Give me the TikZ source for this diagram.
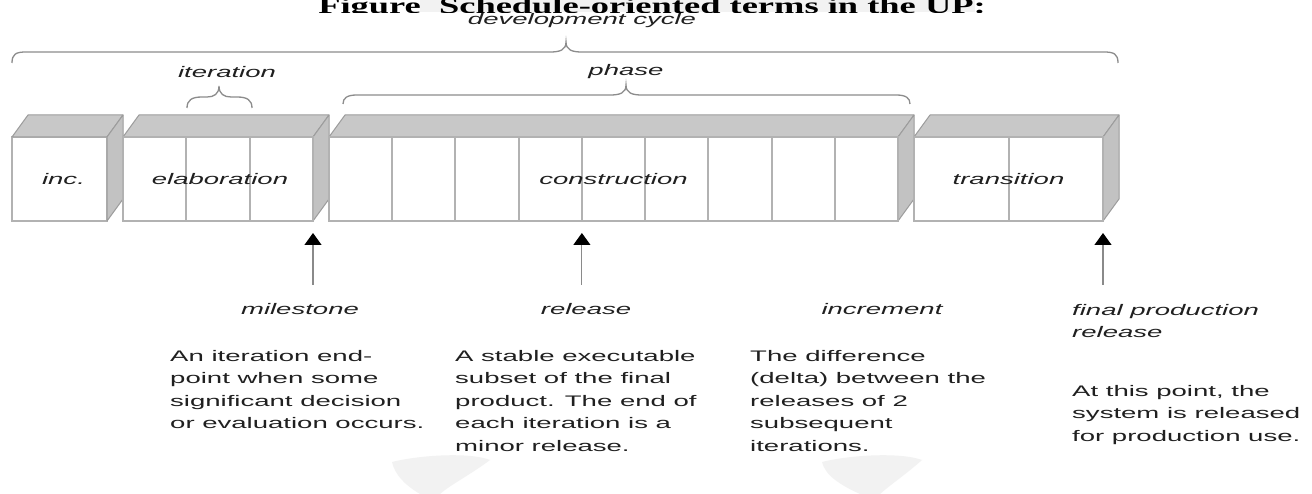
\documentclass[tikz,border=0pt]{standalone}
\usepackage{fontspec}
\usetikzlibrary{arrows.meta,calc}
\newfontfamily\sfw[FakeStretch=1.8]{Liberation Sans}
\newfontfamily\sew[FakeStretch=1.62]{Liberation Serif}
\definecolor{facetop}{HTML}{C8C8C8}
\definecolor{faceside}{HTML}{C2C2C2}
\definecolor{faceedge}{HTML}{9C9C9C}
\definecolor{frontedge}{HTML}{B2B2B2}
\definecolor{bracecol}{HTML}{8C8C8C}
\definecolor{stemcol}{HTML}{8A8A8A}
\definecolor{txtcol}{HTML}{202020}
\definecolor{wmark}{HTML}{F2F2F2}
\newcommand\lbltxt{\sfw\itshape\fontsize{15.3}{22.5}\selectfont}
\newcommand\dsctxt{\sfw\fontsize{15.3}{22.5}\selectfont}
\newcommand\boxfaces[1]{%
  \draw[topface] (#1.north west) -- (#1.north east) -- ++(16,-22) -- ([shift={(16pt,22pt)}]#1.north west) -- cycle;
  \draw[sideface] (#1.north east) -- ++(16,-22) -- ++(0,84) -- (#1.south east) -- cycle;}
\begin{document}
\begin{tikzpicture}[x=1pt,y=-1pt,
  front/.style={draw=frontedge, fill=white, line width=1.4pt, minimum height=84pt, inner sep=0pt, outer sep=0pt, font=\lbltxt, text=txtcol},
  topface/.style={draw=faceedge, fill=facetop, line width=1pt, line join=round},
  sideface/.style={draw=faceedge, fill=faceside, line width=1pt, line join=round},
  divider/.style={draw=frontedge, line width=2pt},
  bracket/.style={draw=bracecol, line width=1.3pt},
  lbl/.style={font=\lbltxt, text=txtcol, inner sep=0pt},
  dsc/.style={font=\dsctxt, text=txtcol, inner sep=0pt, align=left, anchor=north west},
  arr/.style={draw=stemcol, line width=1.2pt, -{Triangle[length=12pt,width=17pt,color=black]}}]
\useasboundingbox (0,0) rectangle (1312,494);
\fill[white] (0,0) rectangle (1312,494);
% faint watermark shapes
\fill[wmark] (420,0) rectangle (975,12.5);
\fill[wmark] (392,462) .. controls (420,455) and (470,452) .. (490,460) .. controls (470,475) and (450,485) .. (440,494) -- (420,494) .. controls (405,485) and (395,475) .. (392,462) -- cycle;
\fill[wmark] (822,462) .. controls (850,455) and (900,452) .. (922,460) .. controls (905,475) and (890,485) .. (880,494) -- (860,494) .. controls (840,485) and (825,475) .. (822,462) -- cycle;
% title (clipped)
\begin{scope}
\clip (0,0) rectangle (1312,12.5);
\node[anchor=base, inner sep=0pt, font=\sew\bfseries\fontsize{22.5}{26}\selectfont, text=black] (title) at (652,13.5) {Figure~~Schedule-oriented terms in the UP:};
\end{scope}
% top labels
\node[lbl] (dev) at (582,21) {development cycle};
\node[lbl] (itl) at (227,72) {iteration};
\node[lbl] (phl) at (626,72) {phase};
% braces
\draw[bracket] (12,63) .. controls (12,54) and (16,52) .. (26,52) -- (550,52) .. controls (560,52) and (566,50) .. (566,42)
  .. controls (566,50) and (572,52) .. (582,52) -- (1104,52) .. controls (1114,52) and (1118,54) .. (1118,63);
\draw[bracket] (187,108) .. controls (187,100) and (192,97) .. (202,97) -- (207,97) .. controls (214,97) and (219,94) .. (219,86)
  .. controls (219,94) and (224,97) .. (231,97) -- (237,97) .. controls (247,97) and (252,100) .. (252,108);
\draw[bracket] (343,104) .. controls (343,98) and (347,95) .. (357,95) -- (610,95) .. controls (620,95) and (626,93) .. (626,85)
  .. controls (626,93) and (632,95) .. (642,95) -- (896,95) .. controls (906,95) and (910,98) .. (910,104);
% boxes (front faces)
\node[front, minimum width=95pt] (inc) at (59.5,179) {};
\node[front, minimum width=190pt] (ela) at (218,179) {};
\node[front, minimum width=569pt] (con) at (613.5,179) {};
\node[front, minimum width=189pt] (tra) at (1008.5,179) {};
\boxfaces{inc}
\boxfaces{ela}
\boxfaces{con}
\boxfaces{tra}
\foreach \k in {1,2}
  \draw[divider] ($(ela.north west)!\k/3!(ela.north east)$) -- ($(ela.south west)!\k/3!(ela.south east)$);
\foreach \k in {1,...,8}
  \draw[divider] ($(con.north west)!\k/9!(con.north east)$) -- ($(con.south west)!\k/9!(con.south east)$);
\draw[divider] (tra.north) -- (tra.south);
\draw[draw=frontedge, line width=1.4pt] (ela.north west) rectangle (ela.south east);
\draw[draw=frontedge, line width=1.4pt] (con.north west) rectangle (con.south east);
\draw[draw=frontedge, line width=1.4pt] (tra.north west) rectangle (tra.south east);
\node[lbl] (inct) at ([xshift=4pt]inc) {inc.};
\node[lbl] (elat) at ([xshift=2pt]ela) {elaboration};
\node[lbl] (cont) at (con) {construction};
\node[lbl] (trat) at (tra) {transition};
% arrows
\coordinate (msT) at ([yshift=-12pt]ela.south east);
\coordinate (msB) at ([yshift=-64pt]ela.south east);
\coordinate (rlT) at ($([yshift=-12pt]con.south west)!4/9!([yshift=-12pt]con.south east)$);
\coordinate (rlB) at ($([yshift=-64pt]con.south west)!4/9!([yshift=-64pt]con.south east)$);
\coordinate (fpT) at ([yshift=-12pt]tra.south east);
\coordinate (fpB) at ([yshift=-64pt]tra.south east);
\draw[arr] (msB) -- (msT);
\draw[arr] (rlB) -- (rlT);
\draw[arr] (fpB) -- (fpT);
% labels
\node[lbl, anchor=base] (ms) at (300,315) {milestone};
\node[lbl, anchor=base] (rl) at (586,315) {release};
\node[lbl, anchor=base] (im) at (882,315) {increment};
\node[lbl, align=left, anchor=north west] (fp) at (1072,304) {final production\\release};
% descriptions
\node[dsc] (msd) at (170,350) {An iteration end-\\point when some\\significant decision\\or evaluation occurs.};
\node[dsc] (rld) at (455,350) {A stable executable\\subset of the final\\product. The end of\\each iteration is a\\minor release.};
\node[dsc] (imd) at (750,350) {The difference\\(delta) between the\\releases of 2\\subsequent\\iterations.};
\node[dsc] (fpd) at (1072,385) {At this point, the\\system is released\\for production use.};
\end{tikzpicture}
\end{document}
